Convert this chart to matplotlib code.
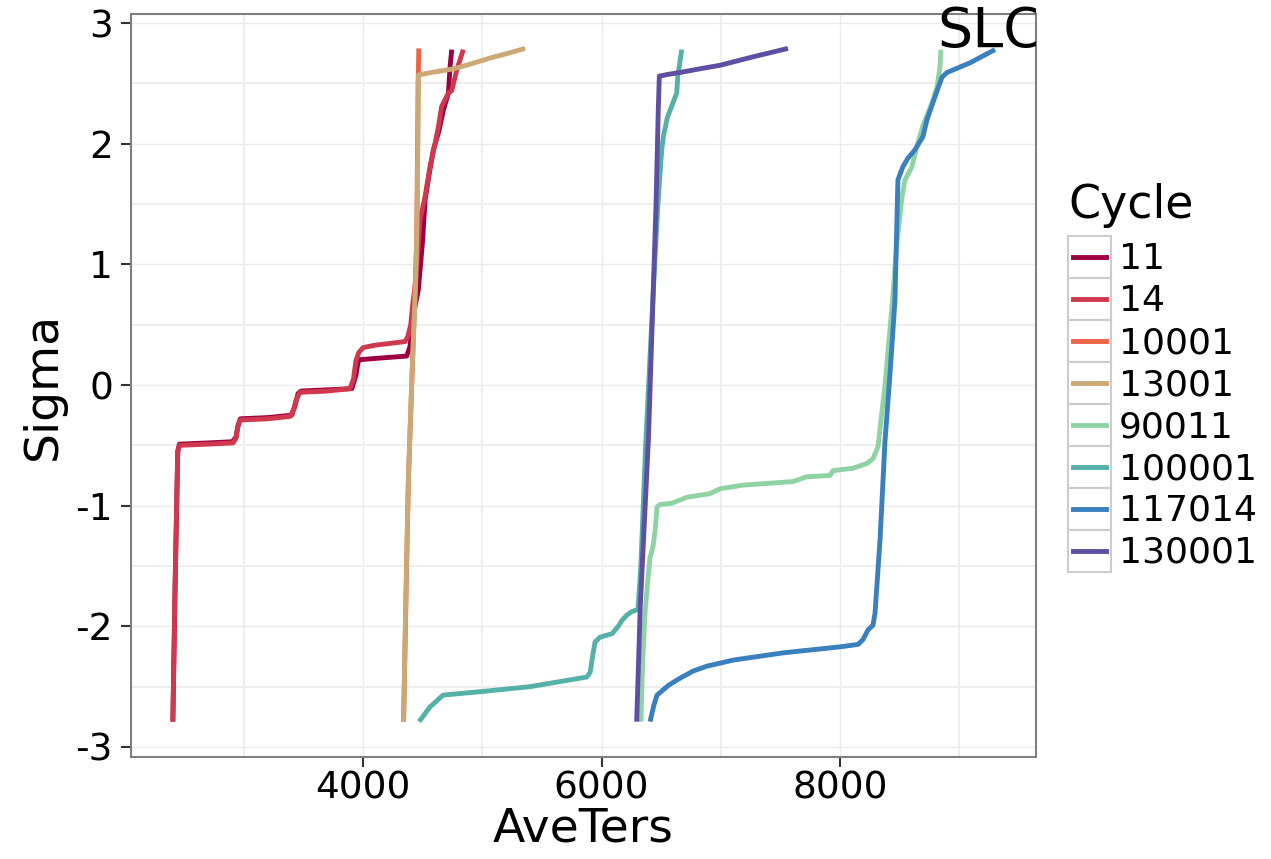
import numpy as np
import matplotlib
matplotlib.use("Agg")
import matplotlib.pyplot as plt
from matplotlib.ticker import MultipleLocator
from matplotlib.patches import Rectangle
from matplotlib.lines import Line2D
from matplotlib.legend_handler import HandlerBase

plt.rcParams['axes.unicode_minus'] = False
plt.rcParams['font.family'] = ['DejaVu Sans']

# AveTers / Sigma per cycle
x_11 = [2405, 2425, 2446, 2460, 2700, 2905, 2935, 2950, 2970, 3200, 3402, 3430, 3455,
        3480, 3700, 3906, 3940, 3958, 3975, 4100, 4366, 4394, 4420, 4464, 4500, 4520,
        4555, 4590, 4635, 4674, 4716, 4730, 4744]
s_11 = [-2.79, -1.6, -0.55, -0.49, -0.48, -0.47, -0.43, -0.34, -0.28, -0.27, -0.25, -0.17, -0.07,
        -0.05, -0.04, -0.03, 0.08, 0.19, 0.21, 0.22, 0.24, 0.32, 0.57, 0.79, 1.2, 1.53,
        1.75, 1.95, 2.1, 2.28, 2.42, 2.64, 2.78]
x_14 = [2405, 2425, 2446, 2460, 2700, 2910, 2935, 2950, 2968, 3200, 3388, 3420, 3440,
        3472, 3700, 3891, 3920, 3940, 3965, 4000, 4100, 4352, 4375, 4400, 4420, 4436,
        4464, 4478, 4520, 4562, 4604, 4632, 4660, 4716, 4744, 4786, 4841]
s_14 = [-2.79, -1.6, -0.55, -0.5, -0.49, -0.48, -0.44, -0.35, -0.29, -0.28, -0.26, -0.2, -0.12,
        -0.06, -0.05, -0.03, 0.05, 0.2, 0.27, 0.31, 0.33, 0.36, 0.4, 0.5, 0.7, 0.81,
        1.17, 1.37, 1.56, 1.81, 2.0, 2.14, 2.31, 2.42, 2.44, 2.61, 2.78]
x_10001 = [4340, 4380, 4410, 4450, 4462, 4468]
s_10001 = [-2.79, -0.8, 0.05, 1.2, 2.5, 2.79]
x_13001 = [4340, 4358, 4380, 4408, 4440, 4452, 4460, 4464, 4600, 4758, 4900, 5065, 5220, 5359]
s_13001 = [-2.79, -1.8, -0.79, 0.02, 0.8, 1.3, 2.0, 2.57, 2.595, 2.62, 2.66, 2.71, 2.75, 2.79]
x_90011 = [6331, 6345, 6365, 6390, 6407, 6432, 6450, 6466, 6491, 6591, 6717, 6910, 6994,
           7187, 7606, 7723, 7916, 7941, 8109, 8226, 8277, 8319, 8378, 8436, 8478, 8520,
           8545, 8604, 8646, 8696, 8772, 8814, 8839, 8847]
s_90011 = [-2.79, -2.3, -1.89, -1.6, -1.43, -1.34, -1.2, -1.01, -0.99, -0.98, -0.93, -0.9, -0.86,
           -0.83, -0.8, -0.76, -0.75, -0.71, -0.69, -0.65, -0.61, -0.51, 0.0, 0.65, 1.18, 1.56,
           1.7, 1.81, 1.98, 2.15, 2.34, 2.47, 2.64, 2.78]
x_100001 = [4470, 4560, 4671, 5000, 5400, 5878, 5905, 5925, 5946, 5988, 6090, 6140, 6172,
            6210, 6250, 6306, 6330, 6370, 6420, 6462, 6474, 6505, 6519, 6553, 6631, 6640, 6673]
s_100001 = [-2.79, -2.67, -2.57, -2.54, -2.5, -2.42, -2.38, -2.25, -2.13, -2.09, -2.06, -2.0, -1.95,
            -1.91, -1.88, -1.86, -1.5, -0.5, 0.5, 1.3, 1.51, 1.95, 2.06, 2.22, 2.42, 2.56, 2.78]
x_117014 = [6407, 6440, 6466, 6560, 6658, 6770, 6885, 7103, 7522, 8000, 8151, 8193, 8235,
            8277, 8294, 8336, 8378, 8420, 8461, 8486, 8528, 8570, 8629, 8696, 8730, 8797,
            8855, 8897, 9090, 9300]
s_117014 = [-2.79, -2.65, -2.57, -2.49, -2.43, -2.37, -2.33, -2.28, -2.22, -2.17, -2.15, -2.11, -2.03,
            -1.99, -1.89, -1.28, -0.46, 0.1, 0.7, 1.7, 1.81, 1.88, 1.95, 2.06, 2.2, 2.39,
            2.55, 2.59, 2.67, 2.78]
x_130001 = [6295, 6325, 6393, 6457, 6476, 6485, 6560, 6658, 6820, 6994, 7271, 7564]
s_130001 = [-2.79, -1.84, -0.46, 1.48, 2.28, 2.56, 2.575, 2.59, 2.62, 2.65, 2.72, 2.79]

cycles = ['11', '14', '10001', '13001', '90011', '100001', '117014', '130001']
xs = [x_11, x_14, x_10001, x_13001, x_90011, x_100001, x_117014, x_130001]
ss = [s_11, s_14, s_10001, s_13001, s_90011, s_100001, s_117014, s_130001]
colori = ['#9E0142', '#D0384E', '#EE6446', '#CBA874', '#8FD3A4', '#55B1A8', '#3A7FBE', '#5E4FA2']


class BoxKey(HandlerBase):
    # legend key drawn like ggplot: grey box with a short line inside
    def create_artists(self, legend, orig_handle, xdescent, ydescent, width, height, fontsize, trans):
        box = Rectangle((-xdescent, -ydescent), width, height, facecolor='white',
                        edgecolor='#cccccc', lw=1.5, transform=trans)
        y = -ydescent + height / 2
        ln = Line2D([-xdescent + 0.12 * width, -xdescent + 0.88 * width], [y, y],
                    color=orig_handle.get_color(), lw=3.5, transform=trans)
        return [box, ln]


fig = plt.figure(figsize=(12.71, 8.59), dpi=100)
ax = fig.add_axes([131 / 1271, 1 - 757 / 859, (1036 - 131) / 1271, (757 - 14) / 859])

linee = []
for c, x, s, col in zip(cycles, xs, ss, colori):
    l, = ax.plot(x, s, color=col, lw=3.5, solid_capstyle='butt', label=c)
    linee.append(l)

ax.set_xlim(2054, 9644)
ax.set_ylim(-3.083, 3.075)
ax.xaxis.set_major_locator(MultipleLocator(2000))
ax.xaxis.set_minor_locator(MultipleLocator(1000))
ax.yaxis.set_major_locator(MultipleLocator(1))
ax.yaxis.set_minor_locator(MultipleLocator(0.5))
ax.grid(which='major', color='#ebebeb', lw=1.0)
ax.grid(which='minor', color='#eeeeee', lw=1.5)
ax.set_axisbelow(True)

for sp in ax.spines.values():
    sp.set_color('#7f7f7f')
    sp.set_linewidth(1.5)
ax.tick_params(which='major', length=7, width=1.5, color='#333333', labelsize=27, labelcolor='black')
ax.tick_params(axis='x', which='major', pad=3)
ax.tick_params(axis='y', which='major', pad=6)
ax.tick_params(which='minor', length=0)

ax.set_xlabel('AveTers', fontsize=34, labelpad=0)
ax.set_ylabel('Sigma', fontsize=34, labelpad=7)

# label clipped on the right at the panel edge, free above it
t = ax.text(8813, 2.80, 'SLC', fontsize=40, ha='left', va='baseline', zorder=5, clip_on=True)
t.set_clip_path(Rectangle((0, 0), 1, 1.5, transform=ax.transAxes))

leg = ax.legend(linee, cycles, handler_map={Line2D: BoxKey()}, loc='upper left',
                bbox_to_anchor=(1068 / 1271, 1 - 183 / 859), bbox_transform=fig.transFigure,
                frameon=False, fontsize=26, title='Cycle', title_fontsize=33,
                alignment='left', labelspacing=0, handlelength=1.2, handleheight=1.41,
                handletextpad=0.2, borderpad=0, borderaxespad=0)
leg._legend_box.sep = 6

fig.savefig('out.png', dpi=100)
